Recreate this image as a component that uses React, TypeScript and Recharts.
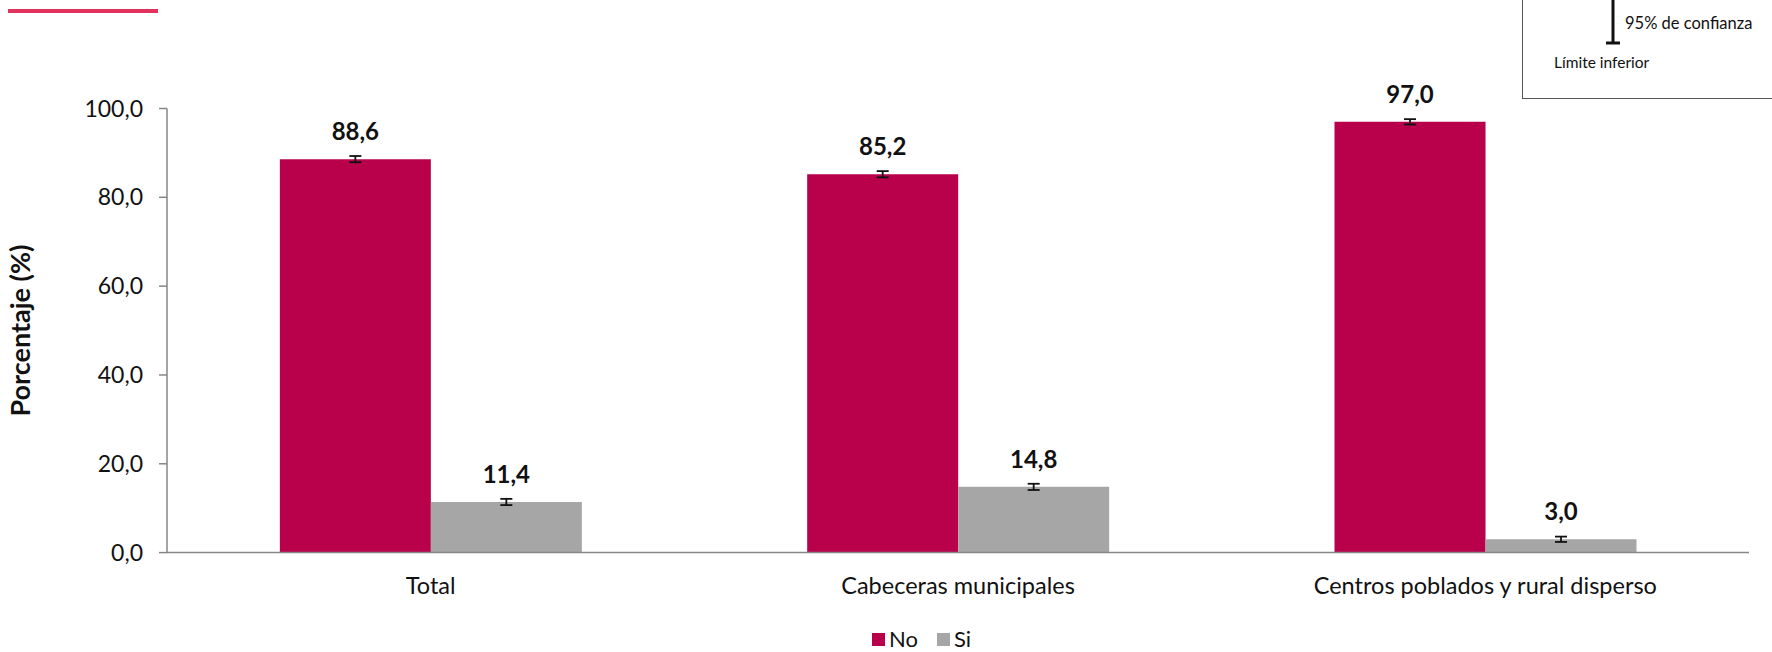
import React from "react";
import { BarChart, Bar, XAxis, YAxis, ErrorBar, LabelList } from "recharts";

const categories = ["Total", "Cabeceras municipales", "Centros poblados y rural disperso"];
const noValues = [88.6, 85.2, 97.0];
const siValues = [11.4, 14.8, 3.0];
const noErrors = [0.7, 0.7, 0.6];
const siErrors = [0.7, 0.7, 0.6];
const yTicks = [0, 20, 40, 60, 80, 100];
const edgeTicks = [0, 1, 2, 3];

const FONT = "Lato, 'Open Sans', sans-serif";
const NO_COLOR = "#b8004b";
const SI_COLOR = "#a6a6a6";
const AXIS_COLOR = "#868686";

const fmt = (v: number) => v.toFixed(1).replace(".", ",");

const data = categories.map((name, i) => ({
  name,
  no: noValues[i],
  si: siValues[i],
  noErr: noErrors[i],
  siErr: siErrors[i],
}));

const App = () => {
  return (
    <div style={{ position: "absolute", left: 0, top: 0, width: 1772, height: 652, fontFamily: FONT, background: "#fff", overflow: "hidden" }}>
      {/* trazo rosado arriba a la izquierda */}
      <div style={{ position: "absolute", left: 8, top: 9, width: 150, height: 3.5, background: "#e2335f" }} />

      {/* cuadro de referencia del intervalo */}
      <div style={{ position: "absolute", left: 1522, top: -20, width: 300, height: 119, border: "1.5px solid #555", boxSizing: "border-box" }} />
      <svg style={{ position: "absolute", left: 1600, top: 0 }} width={30} height={50}>
        <line x1={13} y1={0} x2={13} y2={43} stroke="#111" strokeWidth={3} />
        <line x1={6} y1={43} x2={20} y2={43} stroke="#111" strokeWidth={3} />
      </svg>
      <div style={{ position: "absolute", left: 1625, top: 13, fontSize: 16.5, lineHeight: "20px", color: "#111", whiteSpace: "nowrap" }}>95% de confianza</div>
      <div style={{ position: "absolute", left: 1554, top: 52, fontSize: 15.5, lineHeight: "20px", color: "#111", whiteSpace: "nowrap" }}>Límite inferior</div>

      <BarChart
        width={1772}
        height={652}
        data={data}
        margin={{ top: 108.5, right: 23, left: 0, bottom: 38.4 }}
        barCategoryGap="21.4%"
        barGap={0}
      >
        {/* eje 0: marcas en los bordes de cada categoría */}
        <XAxis
          xAxisId={0}
          type="number"
          domain={[0, 3]}
          ticks={edgeTicks}
          allowDataOverflow
          tick={false}
          tickSize={8}
          height={1}
          axisLine={{ stroke: AXIS_COLOR, strokeWidth: 1.5 }}
          tickLine={{ stroke: AXIS_COLOR, strokeWidth: 1.5 }}
        />
        <XAxis
          xAxisId={1}
          dataKey="name"
          height={60}
          axisLine={false}
          tickLine={false}
          tickSize={0}
          tickMargin={24}
          tick={{ fontSize: 23.5, fill: "#111", fontFamily: FONT }}
          interval={0}
        />
        <YAxis
          width={167}
          domain={[0, 100]}
          ticks={yTicks}
          tickFormatter={fmt}
          tickSize={8}
          tickMargin={16}
          axisLine={{ stroke: AXIS_COLOR, strokeWidth: 1.5 }}
          tickLine={{ stroke: AXIS_COLOR, strokeWidth: 1.5 }}
          tick={{ fontSize: 23, fill: "#111", fontFamily: FONT }}
          label={{
            value: "Porcentaje (%)",
            angle: -90,
            position: "insideLeft",
            offset: 20,
            style: { fontSize: 27, fontWeight: 700, fill: "#111", fontFamily: FONT, textAnchor: "middle" },
          }}
        />
        <Bar xAxisId={1} dataKey="no" name="No" fill={NO_COLOR} isAnimationActive={false}>
          <ErrorBar dataKey="noErr" width={6} stroke="#111" strokeWidth={1.8} direction="y" />
          <LabelList
            dataKey="no"
            position="top"
            offset={19}
            formatter={(v: any) => fmt(Number(v))}
            style={{ fontSize: 24, fontWeight: 700, fill: "#111", fontFamily: FONT }}
          />
        </Bar>
        <Bar xAxisId={1} dataKey="si" name="Si" fill={SI_COLOR} isAnimationActive={false}>
          <ErrorBar dataKey="siErr" width={6} stroke="#111" strokeWidth={1.8} direction="y" />
          <LabelList
            dataKey="si"
            position="top"
            offset={19}
            formatter={(v: any) => fmt(Number(v))}
            style={{ fontSize: 24, fontWeight: 700, fill: "#111", fontFamily: FONT }}
          />
        </Bar>
      </BarChart>

      {/* leyenda */}
      <div style={{ position: "absolute", left: 872, top: 629, height: 20, display: "flex", alignItems: "center", fontSize: 22, lineHeight: "20px", color: "#111" }}>
        <span style={{ width: 13, height: 13, background: NO_COLOR, display: "inline-block", marginRight: 4 }} />
        <span style={{ marginRight: 19 }}>No</span>
        <span style={{ width: 13, height: 13, background: SI_COLOR, display: "inline-block", marginRight: 4 }} />
        <span>Si</span>
      </div>
    </div>
  );
};

export default App;
